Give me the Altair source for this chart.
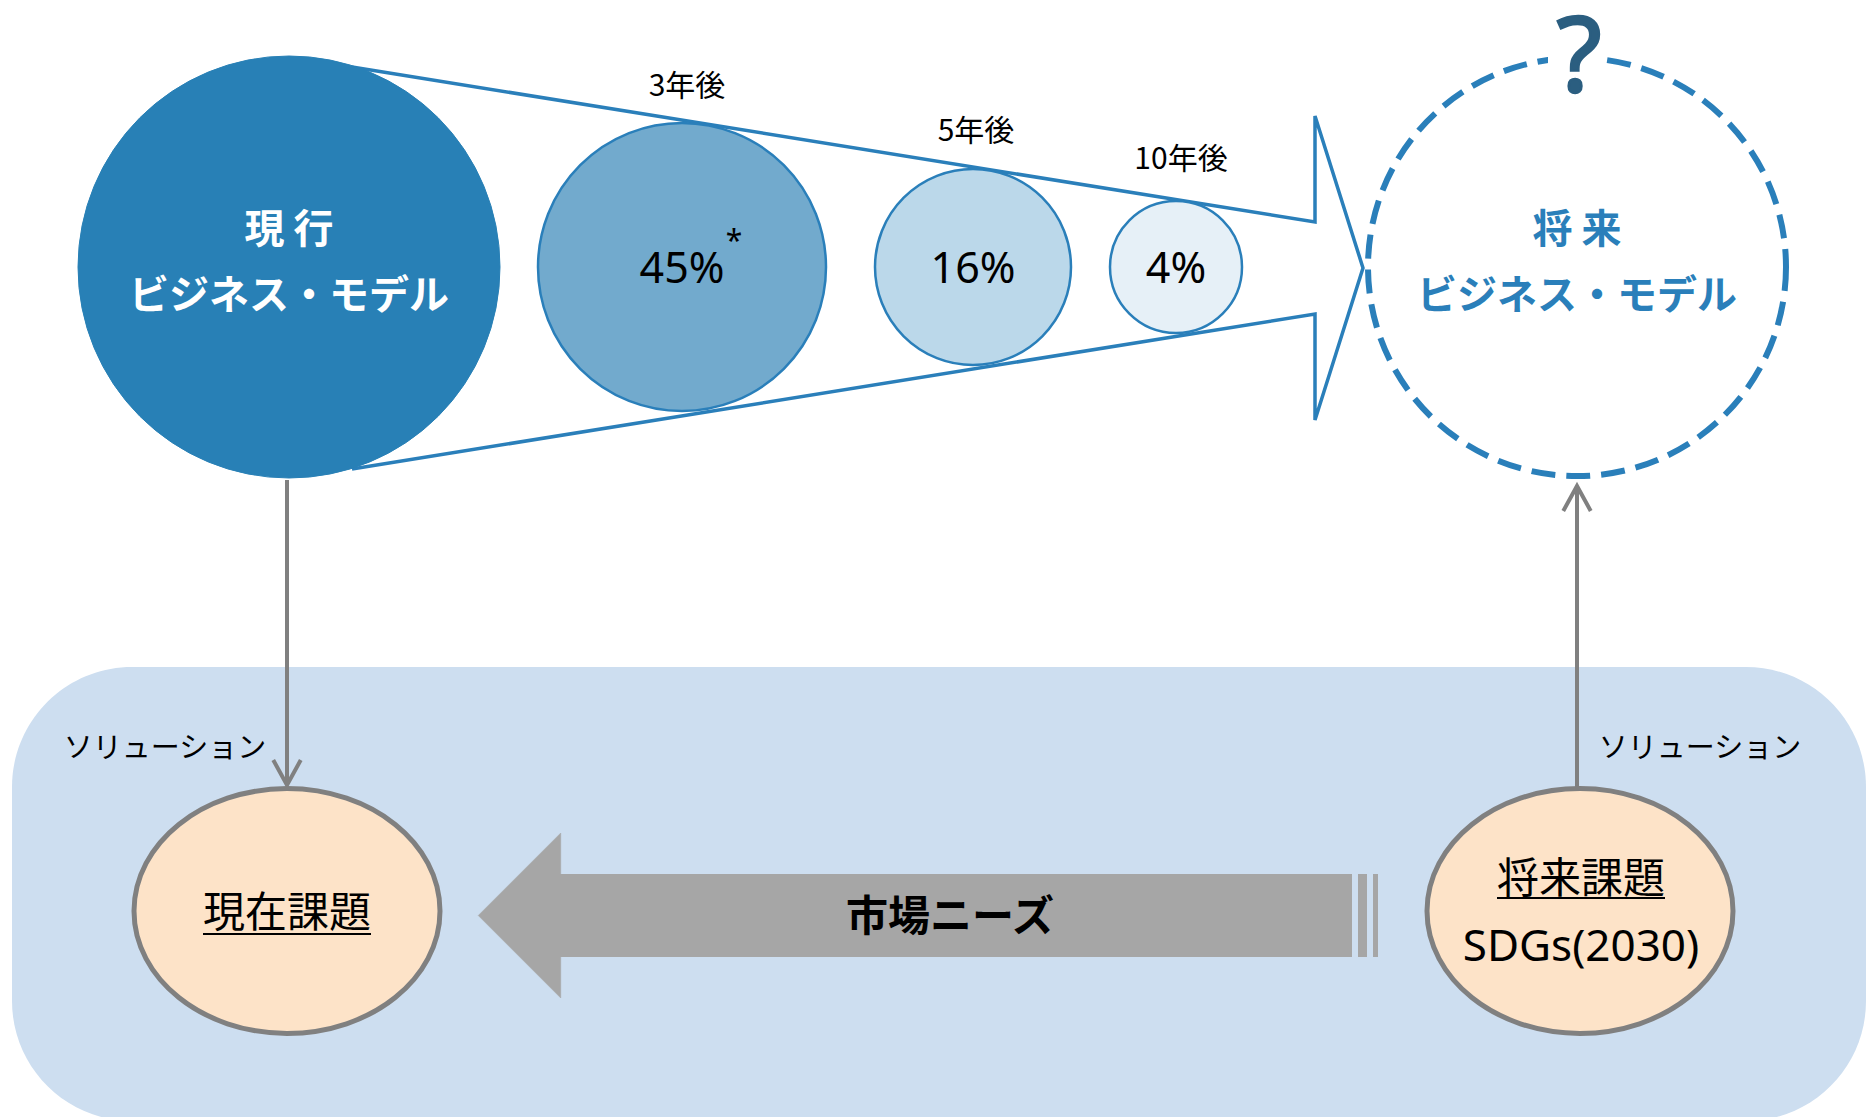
import altair as alt
import pandas as pd

W, H = 1873, 1117

# ---------------- values (text content) ----------------
current_model = ["現 行", "ビジネス・モデル"]
future_model = ["将 来", "ビジネス・モデル"]
horizons = ["3年後", "5年後", "10年後"]
survival = ["45%", "16%", "4%"]
footnote_mark = ["*"]
question = ["?"]
solution = ["ソリューション", "ソリューション"]
current_issue = ["現在課題"]
future_issue = ["将来課題"]
future_issue_sub = ["SDGs(2030)"]
market_needs = ["市場ニーズ"]

# ---------------- layout (pixel geometry / styles) ----------------
BLUE = "#2a7fba"
GRAY = "#808080"
CJK = "Noto Sans CJK JP"
LAT = "Noto Sans"

big_c = dict(x=289, y=267, r=211)
share_x = [682, 973, 1176]
share_r = [144, 98, 66]
share_fill = ["#72aacd", "#bbd8ea", "#e6f0f7"]
horizon_x = [687, 976, 1181]
horizon_y = [85, 130, 158]
future_c = dict(x=1577, y=267, r=209)
funnel_x = [352, 1315, 1315, 1363, 1315, 1315, 352]
funnel_y = [67, 222, 116, 268, 420, 314, 469]
ell_x = [287, 1580]
ell_y = [911, 911]

xs = alt.Scale(domain=[0, W], nice=False, zero=False)
ys = alt.Scale(domain=[H, 0], nice=False, zero=False)


def XY(xf="x", yf="y"):
    return dict(x=alt.X(f"{xf}:Q", scale=xs, axis=None),
                y=alt.Y(f"{yf}:Q", scale=ys, axis=None))


def rect(x, x2, y, y2, color, **kw):
    df = pd.DataFrame({"x": [x], "x2": [x2], "y": [y], "y2": [y2]})
    return alt.Chart(df).mark_rect(color=color, opacity=1, **kw).encode(
        **XY(), x2=alt.X2("x2:Q"), y2=alt.Y2("y2:Q"))


def text(xs_, ys_, ts, size, color="black", font=CJK, weight="normal",
         baseline="middle", dy=0, **kw):
    df = pd.DataFrame({"x": xs_, "y": ys_, "t": ts})
    return alt.Chart(df).mark_text(font=font, fontSize=size, fontWeight=weight,
                                   color=color, align="center", baseline=baseline,
                                   dy=dy, **kw).encode(**XY(), text=alt.Text("t:N"))


def symbol(xs_, ys_, sizes, shape, filled, color=None, fill=None, stroke=None,
           sw=2, dash=None):
    df = pd.DataFrame({"x": xs_, "y": ys_, "s": sizes})
    kw = dict(shape=shape, filled=filled, opacity=1, strokeWidth=sw)
    if dash is not None:
        kw["strokeDash"] = dash
    if color is not None:
        kw["color"] = color
    if fill is not None:
        kw["fill"] = fill
    if stroke is not None:
        kw["stroke"] = stroke
    return alt.Chart(df).mark_point(**kw).encode(
        **XY(), size=alt.Size("s:Q", scale=None))


def rule(x, y, x2, y2, color, sw):
    df = pd.DataFrame({"x": [x], "y": [y], "x2": [x2], "y2": [y2]})
    return alt.Chart(df).mark_rule(color=color, strokeWidth=sw).encode(
        **XY(), x2=alt.X2("x2:Q"), y2=alt.Y2("y2:Q"))


layers = []

# background rounded panel
layers.append(rect(12, 1866, 667, 1121, "#cddef0", cornerRadius=120, clip=True))

# funnel / arrow outline
fdf = pd.DataFrame({"x": funnel_x, "y": funnel_y, "i": list(range(len(funnel_x)))})
layers.append(alt.Chart(fdf).mark_line(color=BLUE, strokeWidth=3.5, strokeJoin="miter")
              .encode(**XY(), order=alt.Order("i:Q")))

# current business model circle
layers.append(symbol([big_c["x"]], [big_c["y"]], [(2 * big_c["r"]) ** 2], "circle",
                     True, fill="#2880b6", stroke="#2880b6", sw=1))

# shrinking share circles
sdf = pd.DataFrame({"x": share_x, "y": [267] * 3,
                    "s": [(2 * r) ** 2 for r in share_r], "f": share_fill})
layers.append(alt.Chart(sdf).mark_point(shape="circle", filled=True, opacity=1,
                                        stroke=BLUE, strokeWidth=2.5)
              .encode(**XY(), size=alt.Size("s:Q", scale=None),
                      fill=alt.Fill("f:N", scale=None)))

# future dashed circle
layers.append(symbol([future_c["x"]], [future_c["y"]], [(2 * future_c["r"]) ** 2],
                     "circle", False, color=BLUE, sw=6, dash=[24, 11]))
# gap behind the question mark
layers.append(rect(1548, 1606, 48, 74, "white"))

# gray solution connectors
layers.append(rule(287, 480, 287, 783, GRAY, 4))
layers.append(rule(1577, 788, 1577, 489, GRAY, 4))
layers.append(symbol([287], [785], [2500], "M -0.55 -1 L 0 0 L 0.55 -1", False,
                     color=GRAY, sw=4))
layers.append(symbol([1577], [486], [2500], "M -0.55 1 L 0 0 L 0.55 1", False,
                     color=GRAY, sw=4))

# issue ellipses
ell_shape = "M -1 0 A 1 0.8 0 1 1 1 0 A 1 0.8 0 1 1 -1 0 Z"
layers.append(symbol(ell_x, ell_y, [(2 * 153) ** 2] * 2, ell_shape, True,
                     fill="#fde3c8", stroke=GRAY, sw=5))

# market needs arrow
layers.append(rect(560, 1352, 874, 957, "#a6a6a6"))
layers.append(rect(1358, 1367, 874, 957, "#a6a6a6"))
layers.append(rect(1373, 1378, 874, 957, "#a6a6a6"))
layers.append(symbol([519.5], [915.5], [165 ** 2], "M -0.5 0 L 0.5 -1 L 0.5 1 Z", True,
                     fill="#a6a6a6", stroke="#a6a6a6", sw=0.5))

# texts
layers.append(text([289, 289], [228, 294], current_model, 40, "white", weight="bold", dy=3))
layers.append(text([1577, 1577], [228, 294], future_model, 40, BLUE, weight="bold", dy=3))
layers.append(text(horizon_x, horizon_y, horizons, 30, dy=2))
layers.append(text(share_x, [268] * 3, survival, 43, font=LAT, dy=2))
layers.append(text([734], [251], footnote_mark, 30, font=LAT, baseline="alphabetic"))
layers.append(text([1579], [92], question, 104, "#2b5e80", font=LAT, baseline="alphabetic",
                   stroke="#2b5e80", strokeWidth=2.5))
layers.append(text([165, 1700], [747, 747], solution, 29, dy=2))
layers.append(text([287], [911], current_issue, 42, dy=3))
layers.append(text([1581], [877], future_issue, 42, dy=3))
layers.append(text([1581], [946], future_issue_sub, 44, font=LAT, dy=2))
layers.append(text([950], [915], market_needs, 42, weight="bold", dy=3))

# underlines
layers.append(rule(203, 934, 371, 934, "black", 2))
layers.append(rule(1497, 898, 1665, 898, "black", 2))

chart = alt.layer(*layers).properties(
    width=W, height=H, padding=0,
    autosize=alt.AutoSizeParams(type="none"),
    background="white",
).configure_view(stroke=None)

chart.save("out.html", embed_options={"renderer": "svg", "actions": False})
